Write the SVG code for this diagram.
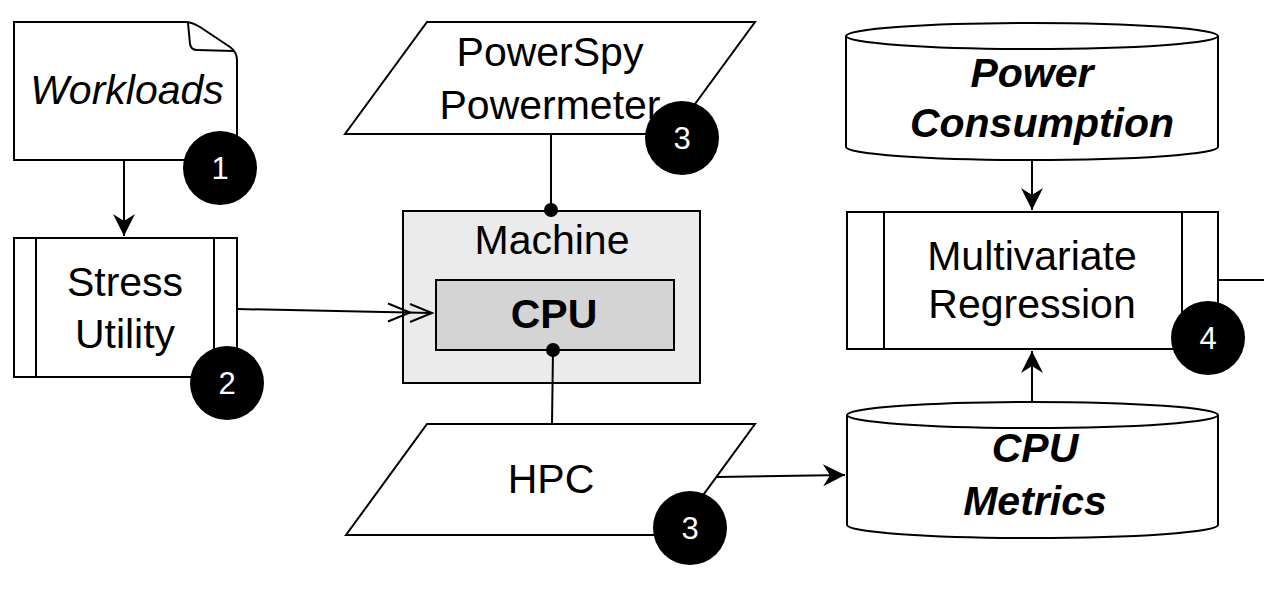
<svg xmlns="http://www.w3.org/2000/svg" width="1264" height="590" viewBox="0 0 1264 590">
<style>
.s{fill:#fff;stroke:#000;stroke-width:2}
.ln{fill:none;stroke:#000;stroke-width:2}
.t{font-family:"Liberation Sans",Arial,sans-serif;font-size:41px;fill:#000;text-anchor:middle}
.b{font-weight:bold}
.i{font-style:italic}
.bd circle{fill:#000}
.bd text{font-family:"Liberation Sans",Arial,sans-serif;font-size:31px;fill:#fff;text-anchor:middle}
</style>
<defs>
<marker id="cl" markerUnits="userSpaceOnUse" markerWidth="24" markerHeight="24" refX="22" refY="11" orient="auto" overflow="visible">
<path d="M0,0 L22,11 L0,22 L7,11 Z" fill="#000"/>
</marker>
</defs>
<rect width="1264" height="590" fill="#fff"/>
<g id="workloads">
<path class="s" d="M14,22 L185,22 Q192,22 200,27 L230,47 Q237,52 237,60 L237,160 L14,160 Z"/>
<path class="ln" d="M188,23 L190,44 Q191,50 197,50 L234,51"/>
<text class="t i" x="127" y="104">Workloads</text>
</g>
<g id="stress">
<rect class="s" x="14" y="238" width="223" height="139"/>
<line class="ln" x1="36" y1="238" x2="36" y2="377"/>
<line class="ln" x1="214" y1="238" x2="214" y2="377"/>
<text class="t" x="125" y="296">Stress</text>
<text class="t" x="125" y="348">Utility</text>
</g>
<g id="machine">
<rect x="403" y="211" width="297" height="172" fill="#ebebeb" stroke="#000" stroke-width="2"/>
<text class="t" x="552" y="254">Machine</text>
</g>
<g id="cpu">
<rect x="436" y="280" width="238" height="70" fill="#d4d4d4" stroke="#000" stroke-width="2"/>
<text class="t b" x="554" y="328">CPU</text>
</g>
<g id="powerspy">
<path class="s" d="M427,22 L755,22 L673,134 L345,134 Z"/>
<text class="t" x="550" y="66">PowerSpy</text>
<text class="t" x="550" y="119">Powermeter</text>
</g>
<g id="hpc">
<path class="s" d="M427,424 L755,424 L674,535 L346,535 Z"/>
<text class="t" x="551" y="493">HPC</text>
</g>
<g id="power">
<path class="s" d="M846,36 L846,147 A186,13 0 0 0 1218,147 L1218,36"/>
<ellipse class="s" cx="1032" cy="36" rx="186" ry="13"/>
<text class="t b i" x="1032" y="87">Power</text>
<text class="t b i" x="1042" y="137">Consumption</text>
</g>
<g id="regression">
<rect class="s" x="847" y="212" width="371" height="137"/>
<line class="ln" x1="884" y1="212" x2="884" y2="349"/>
<line class="ln" x1="1182" y1="212" x2="1182" y2="349"/>
<text class="t" x="1032" y="270">Multivariate</text>
<text class="t" x="1032" y="318">Regression</text>
</g>
<g id="metrics">
<path class="s" d="M847,415 L847,525 A185.5,13 0 0 0 1218,525 L1218,415"/>
<ellipse class="s" cx="1032.5" cy="415" rx="185.5" ry="13"/>
<text class="t b i" x="1035" y="462">CPU</text>
<text class="t b i" x="1035" y="515">Metrics</text>
</g>
<g id="connectors">
<line class="ln" x1="124" y1="160" x2="124" y2="236" marker-end="url(#cl)"/>
<line class="ln" x1="237" y1="309" x2="431" y2="313"/>
<polyline class="ln" points="388,303.5 410,312.5 388,321.5"/>
<polyline class="ln" points="410,304 432,313 410,322"/>
<line class="ln" x1="551" y1="133" x2="551" y2="210"/>
<circle cx="551" cy="210" r="7" fill="#000"/>
<line class="ln" x1="553" y1="350" x2="552" y2="424"/>
<circle cx="553" cy="350" r="7" fill="#000"/>
<line class="ln" x1="717" y1="477" x2="845" y2="475" marker-end="url(#cl)"/>
<line class="ln" x1="1032" y1="160" x2="1032" y2="210" marker-end="url(#cl)"/>
<line class="ln" x1="1032" y1="402" x2="1032" y2="351" marker-end="url(#cl)"/>
<line class="ln" x1="1218" y1="280" x2="1264" y2="280"/>
</g>
<g id="badge1" class="bd"><circle cx="220" cy="168" r="37"/><text x="220" y="179">1</text></g>
<g id="badge2" class="bd"><circle cx="227" cy="383" r="37"/><text x="227" y="394">2</text></g>
<g id="badge3a" class="bd"><circle cx="682" cy="138" r="37"/><text x="682" y="149">3</text></g>
<g id="badge3b" class="bd"><circle cx="690" cy="528" r="37"/><text x="690" y="539">3</text></g>
<g id="badge4" class="bd"><circle cx="1208" cy="338" r="37"/><text x="1208" y="349">4</text></g>
</svg>
